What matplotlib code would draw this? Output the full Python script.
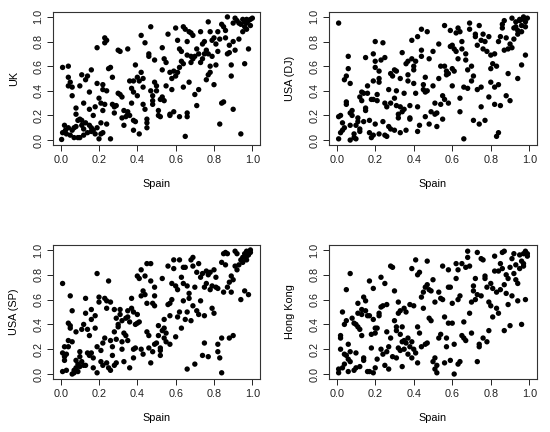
import matplotlib
matplotlib.use("Agg")
import matplotlib.pyplot as plt

uk_pts = [
(0.005,0.005),(0.01,0.06),(0.02,0.12),(0.025,0.08),(0.03,0.05),(0.04,0.10),(0.05,0.04),(0.06,0.08),(0.07,0.10),(0.07,0.02),
(0.08,0.11),(0.09,0.02),(0.09,0.16),(0.10,0.02),(0.10,0.17),(0.11,0.12),(0.12,0.04),(0.12,0.09),(0.13,0.14),(0.14,0.06),
(0.15,0.12),(0.16,0.10),(0.16,0.07),(0.17,0.08),(0.18,0.05),(0.19,0.10),(0.20,0.01),(0.21,0.05),(0.22,0.06),(0.21,0.14),
(0.22,0.24),(0.24,0.13),(0.26,0.01),
(0.01,0.59),(0.04,0.60),(0.04,0.51),(0.04,0.44),(0.05,0.47),(0.06,0.43),(0.06,0.36),(0.08,0.26),(0.08,0.21),(0.10,0.44),
(0.11,0.53),(0.11,0.16),(0.12,0.30),(0.13,0.49),(0.14,0.52),(0.15,0.39),(0.16,0.57),(0.15,0.25),(0.17,0.20),(0.18,0.27),
(0.19,0.46),(0.20,0.34),(0.21,0.30),(0.22,0.41),(0.22,0.45),(0.23,0.29),(0.24,0.40),(0.25,0.58),(0.26,0.59),(0.27,0.51),
(0.27,0.29),(0.28,0.22),(0.28,0.27),(0.29,0.28),(0.30,0.38),(0.31,0.37),(0.32,0.35),(0.32,0.18),(0.33,0.24),(0.33,0.12),
(0.34,0.19),(0.35,0.23),(0.35,0.21),(0.36,0.20),
(0.19,0.75),(0.23,0.83),(0.23,0.79),(0.24,0.81),(0.30,0.73),(0.31,0.72),(0.35,0.74),
(0.36,0.48),(0.37,0.42),(0.37,0.30),(0.38,0.48),(0.38,0.39),(0.38,0.16),(0.39,0.15),(0.38,0.08),(0.39,0.61),(0.40,0.51),
(0.40,0.36),(0.41,0.48),(0.41,0.05),(0.42,0.55),(0.42,0.85),(0.43,0.50),(0.43,0.43),(0.43,0.29),(0.44,0.79),(0.44,0.25),
(0.45,0.17),(0.45,0.14),(0.45,0.10),(0.46,0.70),(0.46,0.68),(0.47,0.40),(0.47,0.92),(0.48,0.36),(0.48,0.32),(0.48,0.29),
(0.49,0.65),(0.49,0.47),(0.50,0.44),(0.50,0.40),(0.51,0.24),(0.51,0.20),(0.52,0.33),(0.52,0.19),(0.53,0.75),(0.53,0.57),
(0.53,0.35),(0.54,0.32),(0.54,0.66),(0.55,0.44),(0.55,0.63),(0.56,0.86),(0.57,0.55),(0.57,0.21),(0.57,0.20),(0.58,0.41),
(0.58,0.50),(0.59,0.56),(0.59,0.23),(0.60,0.91),(0.60,0.52),(0.61,0.55),(0.61,0.81),(0.62,0.19),(0.62,0.59),(0.62,0.74),
(0.63,0.72),(0.63,0.64),(0.64,0.62),(0.64,0.92),(0.64,0.43),(0.65,0.03),(0.65,0.90),(0.66,0.80),(0.66,0.22),(0.66,0.19),
(0.66,0.69),(0.67,0.88),(0.67,0.47),(0.68,0.87),(0.68,0.63),(0.68,0.68),(0.69,0.85),(0.69,0.66),(0.70,0.37),(0.70,0.68),
(0.71,0.74),(0.71,0.28),(0.72,0.70),(0.72,0.41),(0.73,0.63),(0.73,0.88),(0.74,0.78),(0.74,0.66),(0.75,0.70),(0.75,0.80),
(0.76,0.73),(0.76,0.49),(0.77,0.96),(0.77,0.53),(0.77,0.70),(0.78,0.60),(0.78,0.55),(0.78,0.88),(0.79,0.68),(0.79,0.81),
(0.80,0.45),(0.80,0.83),(0.81,0.78),(0.81,0.61),(0.82,0.88),(0.82,0.72),(0.83,0.82),(0.83,0.13),(0.84,0.30),(0.84,0.94),
(0.85,0.31),(0.85,0.92),(0.86,0.89),(0.86,0.83),(0.87,1.00),(0.87,0.70),(0.88,0.77),(0.88,0.71),(0.89,0.61),(0.89,0.52),
(0.90,0.25),(0.90,0.80),(0.90,0.95),(0.91,0.73),(0.91,0.99),(0.92,0.97),(0.93,0.82),(0.93,0.95),(0.94,0.05),(0.94,0.94),
(0.95,0.98),(0.95,0.88),(0.96,0.62),(0.96,0.96),(0.97,0.90),(0.97,0.98),(0.98,0.74),(0.98,0.97),(0.99,0.93),(0.99,0.98),
(1.00,0.99),(0.96,0.92),(0.97,0.95),
]

usa_dj_pts = [
(0.01,0.95),(0.01,0.01),(0.01,0.19),(0.02,0.20),(0.02,0.06),(0.03,0.08),(0.03,0.14),(0.04,0.10),(0.04,0.49),(0.05,0.29),
(0.05,0.31),(0.05,0.52),(0.06,0.68),(0.06,0.58),(0.07,0.46),(0.07,0.22),(0.07,0.12),(0.07,0.00),(0.08,0.24),(0.08,0.20),
(0.09,0.05),(0.09,0.02),(0.10,0.01),(0.10,0.12),(0.11,0.18),(0.11,0.15),(0.12,0.35),(0.12,0.09),(0.12,0.07),(0.13,0.32),
(0.13,0.39),(0.14,0.38),(0.14,0.15),(0.15,0.67),(0.15,0.26),(0.15,0.24),(0.16,0.44),(0.16,0.38),(0.17,0.06),(0.17,0.16),
(0.18,0.33),(0.18,0.02),(0.19,0.70),(0.19,0.48),(0.19,0.33),(0.19,0.04),(0.20,0.59),(0.20,0.64),(0.20,0.80),(0.20,0.13),
(0.21,0.37),(0.21,0.32),(0.22,0.56),(0.22,0.47),(0.22,0.50),(0.22,0.05),(0.23,0.65),(0.24,0.79),(0.24,0.15),(0.25,0.67),
(0.25,0.04),(0.25,0.30),(0.26,0.03),(0.26,0.27),(0.27,0.41),(0.27,0.11),(0.28,0.30),(0.28,0.54),(0.28,0.09),(0.29,0.52),
(0.30,0.57),(0.30,0.34),(0.30,0.08),(0.31,0.56),(0.31,0.40),(0.31,0.28),(0.32,0.21),(0.32,0.18),(0.33,0.50),(0.33,0.27),
(0.33,0.06),(0.34,0.71),(0.34,0.23),(0.35,0.38),(0.35,0.25),(0.36,0.62),(0.36,0.08),(0.37,0.64),(0.37,0.53),(0.37,0.48),
(0.38,0.28),(0.38,0.18),(0.38,0.17),(0.39,0.66),(0.39,0.81),(0.40,0.60),(0.40,0.46),(0.40,0.57),(0.41,0.64),(0.41,0.38),
(0.42,0.84),(0.42,0.27),(0.42,0.07),(0.43,0.12),(0.44,0.73),(0.44,0.68),(0.44,0.90),(0.45,0.45),(0.45,0.41),(0.46,0.51),
(0.46,0.39),(0.46,0.19),(0.47,0.88),(0.47,0.40),(0.48,0.66),(0.48,0.13),(0.49,0.23),(0.50,0.72),(0.50,0.44),(0.51,0.21),
(0.51,0.30),(0.52,0.22),(0.52,0.11),(0.53,0.78),(0.53,0.50),(0.54,0.60),(0.54,0.29),(0.55,0.17),(0.55,0.36),(0.56,0.93),
(0.56,0.60),(0.56,0.33),(0.57,0.53),(0.57,0.56),(0.58,0.30),(0.58,0.54),(0.59,0.89),(0.59,0.76),(0.60,0.58),(0.60,0.44),
(0.60,0.77),(0.61,0.56),(0.61,0.74),(0.62,0.87),(0.62,0.72),(0.63,0.66),(0.63,0.91),(0.64,0.88),(0.64,0.23),(0.64,0.34),
(0.65,0.74),(0.65,0.80),(0.66,0.01),(0.66,0.43),(0.67,0.65),(0.67,0.70),(0.68,0.57),(0.68,0.42),(0.69,0.95),(0.69,0.90),
(0.70,0.60),(0.70,0.48),(0.71,0.16),(0.71,0.52),(0.72,0.86),(0.72,0.84),(0.73,0.41),(0.73,0.77),(0.74,0.93),(0.74,0.13),
(0.75,0.43),(0.75,0.27),(0.75,0.81),(0.76,0.86),(0.76,0.74),(0.77,0.16),(0.77,0.80),(0.78,0.72),(0.79,0.84),(0.79,0.35),
(0.80,0.58),(0.80,0.69),(0.80,0.47),(0.81,0.62),(0.82,0.70),(0.82,0.29),(0.82,0.43),(0.83,0.60),(0.83,0.03),(0.84,0.06),
(0.84,0.45),(0.84,0.80),(0.85,0.84),(0.85,0.28),(0.86,0.91),(0.86,0.94),(0.87,0.97),(0.87,0.73),(0.88,0.36),(0.88,0.83),
(0.89,0.74),(0.89,0.54),(0.90,0.78),(0.90,0.32),(0.91,0.75),(0.91,0.99),(0.92,0.91),(0.92,0.82),(0.93,0.96),(0.94,0.50),
(0.94,0.86),(0.94,0.89),(0.95,0.98),(0.95,0.97),(0.96,0.61),(0.96,0.93),(0.97,0.98),(0.97,1.00),(0.98,0.69),(0.98,0.96),
(0.99,0.99),(0.98,0.92),(0.96,0.88),(0.93,0.92),
]

usa_sp_pts = [
(0.01,0.73),(0.01,0.02),(0.01,0.17),(0.02,0.22),(0.02,0.14),(0.02,0.11),(0.03,0.03),(0.03,0.16),(0.04,0.27),(0.04,0.22),
(0.04,0.41),(0.05,0.39),(0.05,0.37),(0.05,0.63),(0.06,0.26),(0.06,0.51),(0.06,0.00),(0.07,0.03),(0.07,0.01),(0.08,0.34),
(0.08,0.11),(0.08,0.05),(0.09,0.02),(0.09,0.08),(0.10,0.06),(0.10,0.14),(0.10,0.18),(0.11,0.36),(0.11,0.10),(0.12,0.07),
(0.12,0.40),(0.13,0.49),(0.13,0.61),(0.13,0.07),(0.14,0.17),(0.14,0.36),(0.15,0.31),(0.15,0.15),(0.16,0.44),(0.16,0.52),
(0.16,0.17),(0.17,0.13),(0.17,0.05),(0.18,0.37),(0.18,0.47),(0.19,0.81),(0.19,0.01),(0.19,0.22),(0.20,0.58),(0.20,0.62),
(0.21,0.19),(0.21,0.10),(0.22,0.25),(0.22,0.07),(0.23,0.61),(0.23,0.29),(0.24,0.53),(0.24,0.59),(0.24,0.09),(0.25,0.75),
(0.25,0.05),(0.26,0.58),(0.26,0.03),(0.26,0.27),(0.27,0.22),(0.27,0.15),(0.28,0.52),(0.28,0.34),(0.28,0.07),(0.29,0.45),
(0.29,0.28),(0.29,0.09),(0.30,0.38),(0.30,0.40),(0.31,0.48),(0.31,0.52),(0.32,0.26),(0.32,0.43),(0.32,0.20),(0.33,0.33),
(0.33,0.10),(0.34,0.45),(0.34,0.31),(0.35,0.46),(0.35,0.27),(0.35,0.51),(0.36,0.42),(0.36,0.05),(0.37,0.61),(0.37,0.53),
(0.38,0.50),(0.38,0.20),(0.38,0.13),(0.39,0.40),(0.39,0.21),(0.40,0.79),(0.40,0.48),(0.40,0.41),(0.41,0.42),(0.41,0.77),
(0.42,0.63),(0.42,0.84),(0.42,0.20),(0.43,0.16),(0.43,0.67),(0.44,0.79),(0.44,0.64),(0.45,0.89),(0.45,0.57),(0.45,0.34),
(0.46,0.31),(0.46,0.21),(0.47,0.75),(0.47,0.89),(0.47,0.09),(0.48,0.57),(0.48,0.18),(0.49,0.70),(0.49,0.63),(0.49,0.55),
(0.49,0.24),(0.50,0.25),(0.51,0.31),(0.51,0.39),(0.52,0.21),(0.52,0.15),(0.52,0.19),(0.53,0.77),(0.53,0.35),(0.54,0.44),
(0.54,0.29),(0.54,0.37),(0.55,0.26),(0.55,0.33),(0.56,0.56),(0.56,0.87),(0.57,0.57),(0.57,0.47),(0.57,0.24),(0.58,0.60),
(0.58,0.73),(0.59,0.85),(0.59,0.92),(0.60,0.30),(0.60,0.71),(0.61,0.46),(0.61,0.68),(0.62,0.92),(0.62,0.50),(0.63,0.78),
(0.63,0.37),(0.64,0.86),(0.64,0.73),(0.64,0.59),(0.65,0.44),(0.65,0.86),(0.66,0.71),(0.66,0.04),(0.66,0.50),(0.67,0.65),
(0.67,0.61),(0.68,0.43),(0.68,0.92),(0.69,0.94),(0.69,0.87),(0.69,0.55),(0.70,0.70),(0.70,0.08),(0.71,0.82),(0.71,0.51),
(0.72,0.89),(0.72,0.48),(0.73,0.59),(0.73,0.78),(0.74,0.81),(0.74,0.15),(0.75,0.25),(0.75,0.70),(0.75,0.47),(0.76,0.83),
(0.76,0.73),(0.77,0.14),(0.77,0.80),(0.78,0.82),(0.78,0.68),(0.79,0.53),(0.79,0.71),(0.80,0.84),(0.80,0.49),(0.81,0.70),
(0.81,0.78),(0.82,0.18),(0.82,0.24),(0.82,0.69),(0.83,0.13),(0.84,0.01),(0.84,0.29),(0.84,0.90),(0.85,0.66),(0.85,0.97),
(0.86,0.88),(0.86,0.98),(0.87,0.97),(0.87,0.70),(0.88,0.29),(0.88,0.74),(0.89,0.66),(0.89,0.79),(0.90,0.31),(0.90,0.76),
(0.91,0.99),(0.91,0.87),(0.92,0.84),(0.92,0.97),(0.93,0.88),(0.94,0.60),(0.94,0.92),(0.95,0.94),(0.96,0.67),(0.96,0.97),
(0.97,0.95),(0.97,0.99),(0.98,0.64),(0.98,0.96),(0.99,1.00),(0.99,0.98),(0.97,0.92),(0.95,0.90),
]

hk_pts = [
(0.01,0.04),(0.01,0.01),(0.02,0.31),(0.02,0.20),(0.02,0.29),(0.03,0.50),(0.03,0.05),(0.04,0.16),(0.04,0.08),(0.04,0.40),
(0.05,0.43),(0.05,0.68),(0.05,0.15),(0.06,0.02),(0.06,0.12),(0.06,0.24),(0.07,0.18),(0.07,0.81),(0.07,0.10),(0.08,0.45),
(0.09,0.41),(0.09,0.03),(0.10,0.05),(0.10,0.40),(0.10,0.17),(0.11,0.49),(0.11,0.38),(0.11,0.57),(0.12,0.06),(0.12,0.36),
(0.13,0.52),(0.13,0.48),(0.13,0.31),(0.14,0.13),(0.14,0.11),(0.14,0.62),(0.15,0.59),(0.15,0.51),(0.16,0.47),(0.16,0.02),
(0.17,0.75),(0.17,0.47),(0.17,0.02),(0.18,0.32),(0.18,0.21),(0.19,0.69),(0.19,0.01),(0.19,0.44),(0.20,0.33),(0.20,0.37),
(0.20,0.05),(0.21,0.12),(0.21,0.37),(0.22,0.47),(0.22,0.49),(0.23,0.78),(0.23,0.54),(0.23,0.20),(0.24,0.16),(0.24,0.55),
(0.25,0.73),(0.25,0.07),(0.26,0.18),(0.26,0.34),(0.26,0.56),(0.27,0.04),(0.27,0.22),(0.28,0.29),(0.28,0.87),(0.29,0.86),
(0.29,0.14),(0.30,0.67),(0.30,0.43),(0.31,0.38),(0.31,0.35),(0.31,0.13),(0.32,0.58),(0.32,0.21),(0.32,0.49),(0.33,0.51),
(0.33,0.32),(0.33,0.19),(0.34,0.26),(0.34,0.06),(0.34,0.38),(0.35,0.53),(0.35,0.20),(0.35,0.27),(0.36,0.50),(0.36,0.25),
(0.37,0.16),(0.37,0.29),(0.38,0.56),(0.38,0.22),(0.39,0.26),(0.39,0.85),(0.39,0.13),(0.40,0.55),(0.40,0.20),(0.41,0.17),
(0.41,0.92),(0.42,0.80),(0.42,0.38),(0.42,0.09),(0.43,0.82),(0.43,0.33),(0.44,0.62),(0.44,0.22),(0.45,0.66),(0.45,0.53),
(0.46,0.24),(0.46,0.70),(0.47,0.91),(0.47,0.25),(0.47,0.72),(0.48,0.68),(0.48,0.45),(0.49,0.43),(0.49,0.67),(0.50,0.10),
(0.50,0.76),(0.51,0.58),(0.51,0.04),(0.51,0.13),(0.52,0.07),(0.52,0.01),(0.53,0.66),(0.53,0.29),(0.54,0.61),(0.54,0.32),
(0.55,0.87),(0.55,0.60),(0.56,0.46),(0.56,0.09),(0.57,0.22),(0.57,0.29),(0.58,0.84),(0.58,0.70),(0.58,0.41),(0.59,0.11),
(0.59,0.70),(0.60,0.57),(0.60,0.41),(0.61,0.00),(0.61,0.24),(0.62,0.89),(0.62,0.77),(0.63,0.84),(0.63,0.60),(0.63,0.08),
(0.64,0.63),(0.64,0.10),(0.65,0.31),(0.65,0.89),(0.66,0.42),(0.66,0.29),(0.67,0.86),(0.67,0.27),(0.68,0.94),(0.68,0.99),
(0.69,0.87),(0.69,0.49),(0.70,0.33),(0.70,0.58),(0.71,0.71),(0.71,0.67),(0.72,0.60),(0.72,0.77),(0.73,0.10),(0.73,0.98),
(0.73,0.64),(0.74,0.24),(0.74,0.22),(0.75,0.63),(0.75,0.93),(0.76,0.29),(0.76,0.92),(0.77,0.79),(0.77,0.77),(0.78,0.70),
(0.78,0.26),(0.79,0.35),(0.79,0.58),(0.80,0.55),(0.80,0.73),(0.81,0.46),(0.81,0.69),(0.82,0.95),(0.82,0.83),(0.83,0.53),
(0.83,0.66),(0.84,0.49),(0.84,0.83),(0.85,0.89),(0.85,0.68),(0.86,0.98),(0.86,0.85),(0.87,0.99),(0.87,0.35),(0.87,0.72),
(0.88,0.80),(0.88,0.65),(0.89,0.77),(0.89,0.56),(0.90,0.39),(0.90,0.86),(0.91,0.63),(0.91,0.93),(0.92,0.97),(0.92,0.81),
(0.93,0.88),(0.93,0.76),(0.94,0.59),(0.94,0.73),(0.95,0.96),(0.95,0.85),(0.96,0.40),(0.96,0.91),(0.97,0.89),(0.97,0.97),
(0.98,0.60),(0.98,0.99),(0.99,0.95),(0.99,0.97),(0.97,0.87),
]

x_label = "Spain"
y_labels = ["UK", "USA (DJ)", "USA (SP)", "Hong Kong"]
tick_vals = [0.0, 0.2, 0.4, 0.6, 0.8, 1.0]
tick_labels = ["0.0", "0.2", "0.4", "0.6", "0.8", "1.0"]

plt.rcParams['font.family'] = ['Liberation Sans', 'DejaVu Sans']

fig = plt.figure(figsize=(5.5, 4.32), dpi=100)
W, H = 550, 432
boxes = [
    (53, 12, 207, 133),
    (329, 12, 208, 133),
    (53, 245, 207, 134),
    (329, 245, 208, 134),
]
datasets = [uk_pts, usa_dj_pts, usa_sp_pts, hk_pts]

for (l, t, w, h), pts, ylab in zip(boxes, datasets, y_labels):
    ax = fig.add_axes([l / W, 1 - (t + h) / H, w / W, h / H])
    xs = [p[0] for p in pts]
    ys = [p[1] for p in pts]
    ax.scatter(xs, ys, s=15, c="black", edgecolors="none")
    ax.set_xlim(-0.04, 1.04)
    ax.set_ylim(-0.04, 1.04)
    ax.set_xticks(tick_vals)
    ax.set_xticklabels(tick_labels)
    ax.set_yticks(tick_vals)
    ax.set_yticklabels(tick_labels, rotation=90, va="center")
    ax.tick_params(direction="out", length=4, width=0.7, labelsize=7.8,
                   colors="#222222", pad=3)
    for sp in ax.spines.values():
        sp.set_linewidth(0.8)
        sp.set_color("#333333")
    ax.set_xlabel(x_label, fontsize=7.8, labelpad=10)
    ax.set_ylabel(ylab, fontsize=7.8, labelpad=10)

fig.savefig("out.png", dpi=100)
